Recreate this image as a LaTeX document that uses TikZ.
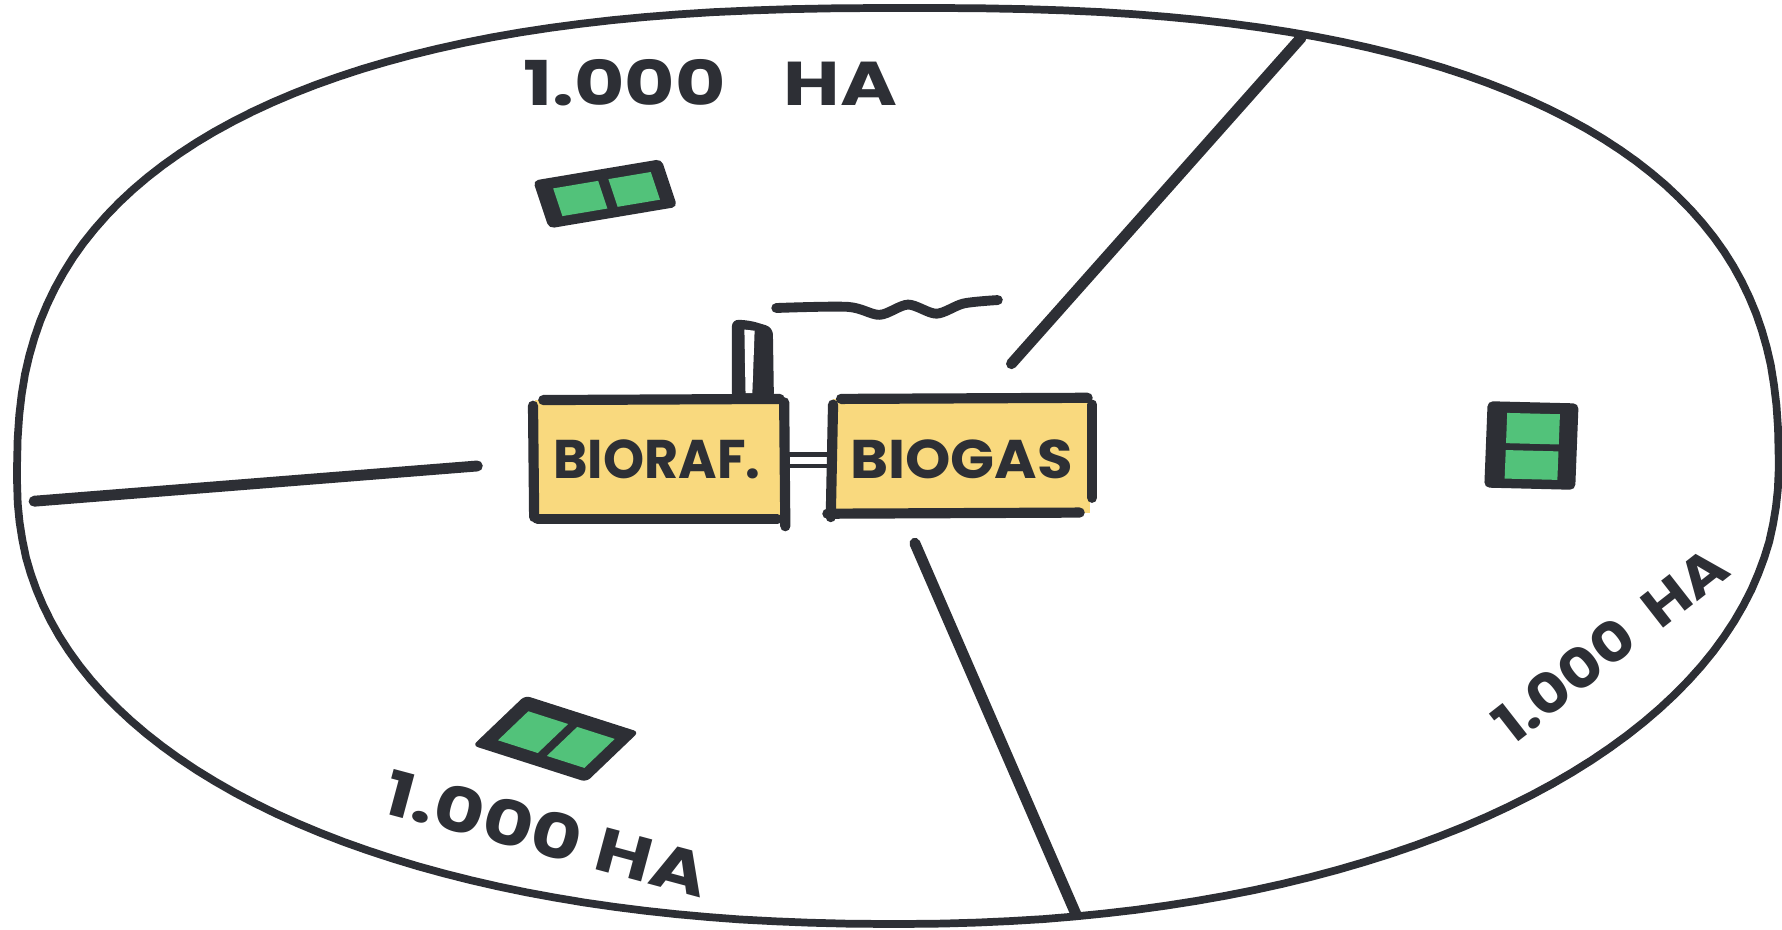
\documentclass[tikz,border=0pt]{standalone}
\usepackage{fontspec}
\usepackage{graphicx}
\setmainfont{Poppins}[Numbers=Proportional]
\usetikzlibrary{calc}
\definecolor{ink}{HTML}{2D2F35}
\definecolor{butter}{HTML}{F9D97E}
\definecolor{grass}{HTML}{52C27A}
\tikzset{
  rim/.style={draw=ink, line width=2.2pt, line cap=round, line join=round},
  divider/.style={draw=ink, line width=3.1pt, line cap=round},
  boxedge/.style={draw=ink, line width=2.9pt, line cap=round},
  hand/.style={text=ink, inner sep=0pt, font=\bfseries},
  big/.style={hand, font=\bfseries\fontsize{17.6}{20}\selectfont},
  boxtext/.style={hand, font=\bfseries\fontsize{15.5}{17}\selectfont},
}
\newcommand\farm[3]{%
  \fill[ink, rounded corners=1.5pt] ($#1$) -- ($#1+#2$) -- ($#1+#2+#3$) -- ($#1+#3$) -- cycle;
  \fill[grass] ($#1+0.13*#2+0.22*#3$) -- ($#1+0.48*#2+0.22*#3$) -- ($#1+0.48*#2+0.8*#3$) -- ($#1+0.13*#2+0.8*#3$) -- cycle;
  \fill[grass] ($#1+0.56*#2+0.22*#3$) -- ($#1+0.89*#2+0.22*#3$) -- ($#1+0.89*#2+0.8*#3$) -- ($#1+0.56*#2+0.8*#3$) -- cycle;
}
\begin{document}
\begin{tikzpicture}[x=0.011365cm, y=-0.011365cm]
\useasboundingbox (0,0) rectangle (1568,818);
\fill[white] (0,0) rectangle (1568,818);

% outer boundary (four superelliptic quadrants)
\draw[rim]
  plot[domain=0.5:89.5, samples=45, variable=\t] ({800-785*pow(cos(\t),0.8)},{420-413*pow(sin(\t),0.8)})
  -- plot[domain=89.5:0.5, samples=45, variable=\t] ({800+765*pow(cos(\t),0.8)},{410-403*pow(sin(\t),0.8)})
  -- plot[domain=0.5:89.5, samples=45, variable=\t] ({790+775*pow(cos(\t),0.952)},{410+403*pow(sin(\t),0.952)})
  -- plot[domain=89.5:0.5, samples=45, variable=\t] ({790-775*pow(cos(\t),0.909)},{420+393*pow(sin(\t),0.909)})
  -- cycle;

% dividers
\coordinate (dl1) at (30,441);  \coordinate (dl2) at (420,410);
\coordinate (du1) at (890,320); \coordinate (du2) at (1145,33);
\coordinate (dd1) at (805,478); \coordinate (dd2) at (947,805);
\draw[divider] (dl1) -- (dl2);
\draw[divider] (du1) -- (du2);
\draw[divider] (dd1) -- (dd2);

% chimney and smoke
\fill[ink, rounded corners=2pt] (644,281) -- (660,282) -- (680,288) -- (681,352) -- (644,352) -- cycle;
\fill[white] (655,290) -- (664,291) -- (662,346) -- (656,346) -- cycle;
\draw[ink, line width=2.8pt, line cap=round] plot[smooth, tension=0.5] coordinates {(683,271) (746,270) (774,277) (799,268) (824,276) (848,267) (878,264)};

% boxes
\fill[butter] (471,352) rectangle (689,456);
\fill[butter] (733,351) rectangle (959,451);
\draw[boxedge] (478,352) -- (686,351);
\draw[boxedge] (469,357) -- (470,455);
\draw[boxedge] (473,457) -- (684,457);
\draw[boxedge] (690,354) -- (691,463);
\draw[boxedge] (740,351) -- (957,350);
\draw[boxedge] (733,356) -- (731,455);
\draw[boxedge] (728,452) -- (950,451);
\draw[boxedge] (961,356) -- (961,438);
\node[boxtext] (bioraf) at (578,404) {\scalebox{0.96}[1]{BIORAF.}};
\node[boxtext] (biogas) at (846,404) {\scalebox{1.06}[1]{BIOGAS}};
% pipe between the two boxes
\draw[ink, line width=1.4pt] (bioraf.east -| 692,0) ++(0,-4) -- ++(40,0);
\draw[ink, line width=1.4pt] (bioraf.east -| 692,0) ++(0,6) -- ++(40,0);

% fields
\farm{(469,159)}{(113,-19)}{(14,42)}
\farm{(462,612)}{(100,32)}{(-46,44)}
\farm{(1309,353)}{(-3,76)}{(80,2)}

% labels
\node[big] (lbltop) at (625,73) {\scalebox{1.25}[1]{1.000\hspace{0.75em}HA}};
\node[big, rotate=-15] (lblbottom) at (481,733) {\scalebox{1.25}[1]{1.000 HA}};
\node[hand, font=\bfseries\fontsize{15.5}{17}\selectfont, rotate=38] (lblright) at (1417,567) {\scalebox{1.15}[1]{1.000\hspace{0.4em}HA}};
\end{tikzpicture}
\end{document}
